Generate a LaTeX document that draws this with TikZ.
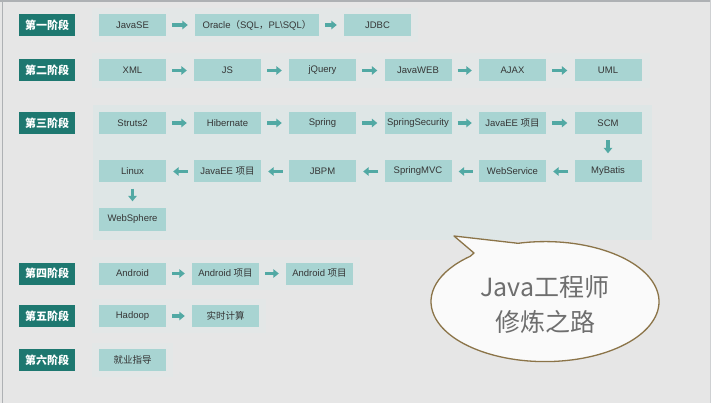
\documentclass[tikz,border=0pt]{standalone}
\usepackage{fontspec}
\setmainfont{Liberation Sans}
\newfontfamily\cjk{Noto Sans CJK SC}
\usetikzlibrary{arrows.meta}
\definecolor{bgc}{HTML}{E6E6E6}
\definecolor{panelc}{HTML}{DEE6E6}
\definecolor{faintc}{HTML}{E3E7E7}
\definecolor{boxc}{HTML}{A8D4D2}
\definecolor{stagec}{HTML}{1E7870}
\definecolor{arrc}{HTML}{52A9A4}
\definecolor{txtc}{HTML}{353535}
\definecolor{bubblec}{HTML}{8B7448}
\definecolor{bubtxt}{HTML}{6E6E6E}
\definecolor{edgec}{HTML}{AEB1B4}
\begin{document}
\begin{tikzpicture}[x=1pt,y=-1pt,
  item/.style={fill=boxc, minimum width=67pt, minimum height=22pt, inner sep=0pt,
    font=\fontsize{9.5}{10}\selectfont, text=txtc},
  stage/.style={fill=stagec, minimum width=56pt, minimum height=22pt, inner sep=0pt,
    font=\cjk\bfseries\fontsize{11}{12}\selectfont, text=white},
  arr/.style={draw=arrc, line width=3.6pt, -{Triangle[length=5.5pt,width=8.5pt]},
    shorten <=6pt, shorten >=7pt},
  panel/.style={fill=faintc, draw=none}]
\useasboundingbox (0,0) rectangle (711,403);
\fill[bgc] (0,0) rectangle (711,403);
\fill[edgec] (0,0) rectangle (711,2);
\draw[edgec, line width=1pt] (2.5,0) -- (2.5,403);
\draw[edgec!60, line width=0.8pt] (710,0) -- (710,403);
% panels
\fill[faintc] (92,8) rectangle (418,42);
\fill[faintc] (92,53) rectangle (650,88);
\fill[panelc] (93,105) rectangle (652,240);
\fill[faintc] (92,257) rectangle (360,290);
\fill[faintc] (92,299) rectangle (266,333);
\fill[faintc] (92,343) rectangle (173,377);
% stage labels
\node[stage] (s1) at (47,25) {第一阶段};
\node[stage] (s2) at (47,70.5) {第二阶段};
\node[stage] (s3) at (47,123) {第三阶段};
\node[stage] (s4) at (47,273.5) {第四阶段};
\node[stage] (s5) at (47,316) {第五阶段};
\node[stage] (s6) at (47,360) {第六阶段};
% row 1
\node[item] (javase) at (132.5,25) {JavaSE};
\node[item, minimum width=124pt] (oracle) at (257,25) {Oracle{\cjk （}SQL{\cjk ，}PL\textbackslash SQL{\cjk ）}};
\node[item] (jdbc) at (377.5,25) {JDBC};
\draw[arr] (javase) -- (oracle);
\draw[arr] (oracle) -- (jdbc);
% row 2
\node[item] (xml) at (132.5,70.5) {XML};
\node[item] (js) at (227.5,70.5) {JS};
\node[item] (jquery) at (322.5,70.5) {jQuery};
\node[item] (javaweb) at (418,70.5) {JavaWEB};
\node[item] (ajax) at (512.5,70.5) {AJAX};
\node[item] (uml) at (608,70.5) {UML};
\draw[arr] (xml) -- (js);
\draw[arr] (js) -- (jquery);
\draw[arr] (jquery) -- (javaweb);
\draw[arr] (javaweb) -- (ajax);
\draw[arr] (ajax) -- (uml);
% row 3
\node[item] (struts) at (132.5,123) {Struts2};
\node[item] (hib) at (227.5,123) {Hibernate};
\node[item] (spring) at (322.5,123) {Spring};
\node[item] (sec) at (418,123) {SpringSecurity};
\node[item] (jee1) at (512.5,123) {JavaEE {\cjk 项目}};
\node[item] (scm) at (608,123) {SCM};
\draw[arr] (struts) -- (hib);
\draw[arr] (hib) -- (spring);
\draw[arr] (spring) -- (sec);
\draw[arr] (sec) -- (jee1);
\draw[arr] (jee1) -- (scm);
\node[item] (mybatis) at (608,171.5) {MyBatis};
\node[item] (ws) at (512.5,171.5) {WebService};
\node[item] (mvc) at (418,171.5) {SpringMVC};
\node[item] (jbpm) at (322.5,171.5) {JBPM};
\node[item] (jee2) at (227.5,171.5) {JavaEE {\cjk 项目}};
\node[item] (linux) at (132.5,171.5) {Linux};
\node[item] (wsph) at (132.5,219.5) {WebSphere};
\draw[arr] (scm) -- (mybatis);
\draw[arr] (mybatis) -- (ws);
\draw[arr] (ws) -- (mvc);
\draw[arr] (mvc) -- (jbpm);
\draw[arr] (jbpm) -- (jee2);
\draw[arr] (jee2) -- (linux);
\draw[arr] (linux) -- (wsph);
% row 4
\node[item] (andr) at (132.5,273.5) {Android};
\node[item] (andp1) at (225.5,273.5) {Android {\cjk 项目}};
\node[item] (andp2) at (319.5,273.5) {Android {\cjk 项目}};
\draw[arr] (andr) -- (andp1);
\draw[arr] (andp1) -- (andp2);
% row 5
\node[item] (hadoop) at (132.5,316) {Hadoop};
\node[item, font=\cjk\fontsize{9.5}{10}\selectfont] (rt) at (225.5,316) {实时计算};
\draw[arr] (hadoop) -- (rt);
% row 6
\node[item, font=\cjk\fontsize{9.5}{10}\selectfont] (job) at (132.5,360) {就业指导};
% speech bubble
\draw[bubblec, line width=1.3pt, fill=white!98!black, line join=round]
  (454,236) -- (518,243.3)
  arc[start angle=256.3, end angle=589, x radius=114, y radius=60]
  -- (474,253) -- cycle;
\node[align=center, text=bubtxt, font=\cjk\fontsize{25}{35}\selectfont] (title) at (545,304.5) {Java工程师\\修炼之路};
\end{tikzpicture}
\end{document}
